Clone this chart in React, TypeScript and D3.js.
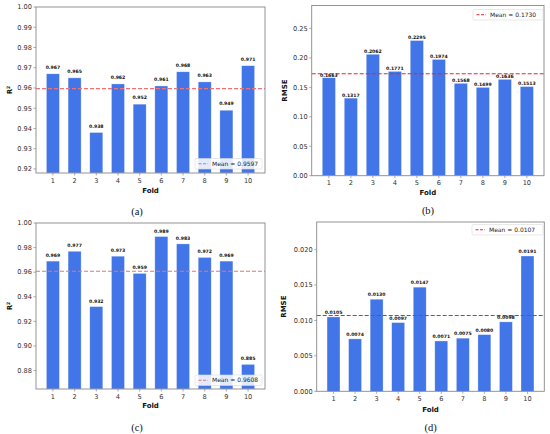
import React from "react";
import * as d3 from "d3";

const folds = [1, 2, 3, 4, 5, 6, 7, 8, 9, 10];
const r2A = [0.967, 0.965, 0.938, 0.962, 0.952, 0.961, 0.968, 0.963, 0.949, 0.971];
const rmseB = [0.1663, 0.1317, 0.2062, 0.1771, 0.2295, 0.1974, 0.1568, 0.1499, 0.1636, 0.1513];
const r2C = [0.969, 0.977, 0.932, 0.973, 0.959, 0.989, 0.983, 0.972, 0.969, 0.885];
const rmseD = [0.0105, 0.0074, 0.013, 0.0097, 0.0147, 0.0071, 0.0075, 0.008, 0.0098, 0.0191];
const means = [0.9597, 0.173, 0.9608, 0.0107];
const captions = ["(a)", "(b)", "(c)", "(d)"];
const yTicksA = [0.92, 0.93, 0.94, 0.95, 0.96, 0.97, 0.98, 0.99, 1.0];
const yTicksB = [0.0, 0.05, 0.1, 0.15, 0.2, 0.25];
const yTicksC = [0.88, 0.9, 0.92, 0.94, 0.96, 0.98, 1.0];
const yTicksD = [0.0, 0.005, 0.01, 0.015, 0.02];

const FONT = "DejaVu Sans, sans-serif";
const BAR = "#4175e8";

type PanelProps = {
  values: number[];
  mean: number;
  meanDigits: number;
  valDigits: number;
  yDomain: [number, number];
  yTicks: number[];
  tickDigits: number;
  L: number; R: number; T: number; B: number;
  ylab: "R2" | "RMSE";
  ylabX: number;
  foldY: number;
  caption: string;
  capX: number;
  capY: number;
  labelOff: number;
  legend: { x: number; y: number; w: number };
  meanColor: string;
};

function Panel(p: PanelProps) {
  const x = d3.scaleLinear().domain([0.22, 10.78]).range([p.L, p.R]);
  const y = d3.scaleLinear().domain(p.yDomain).range([p.B, p.T]);
  const bw = x(0.6) - x(0);
  const fmt = d3.format(`.${p.valDigits}f`);
  const tf = d3.format(`.${p.tickDigits}f`);
  const midY = (p.T + p.B) / 2;
  const lg = p.legend;
  return (
    <g fontFamily={FONT}>
      {p.values.map((v, i) => (
        <rect key={i} x={x(folds[i]) - bw / 2} y={y(v)} width={bw} height={Math.max(0, p.B - y(v))}
          fill={BAR} stroke="#ffffff" strokeOpacity={0.5} strokeWidth={0.6} />
      ))}
      <line x1={p.L} x2={p.R} y1={y(p.mean)} y2={y(p.mean)} stroke={p.meanColor}
        strokeWidth={1.1} strokeDasharray="4,2" />
      {p.values.map((v, i) => (
        <text key={i} x={x(folds[i])} y={y(v) - p.labelOff} textAnchor="middle" fontSize={4.6} fontWeight="bold" fill="#111">
          {fmt(v)}
        </text>
      ))}
      <rect x={p.L} y={p.T} width={p.R - p.L} height={p.B - p.T} fill="none" stroke="#888" strokeWidth={0.9} />
      {p.yTicks.map((t, i) => (
        <g key={i}>
          <line x1={p.L - 2.5} x2={p.L} y1={y(t)} y2={y(t)} stroke="#888" strokeWidth={0.7} />
          <text x={p.L - 4} y={y(t)} dy="0.35em" textAnchor="end" fontSize={6.6} fill="#333">{tf(t)}</text>
        </g>
      ))}
      {folds.map((f) => (
        <g key={f}>
          <line x1={x(f)} x2={x(f)} y1={p.B} y2={p.B + 2.5} stroke="#888" strokeWidth={0.7} />
          <text x={x(f)} y={p.B + 9.5} textAnchor="middle" fontSize={6.6} fill="#333">{f}</text>
        </g>
      ))}
      <text x={(p.L + p.R) / 2} y={p.foldY} dy="0.35em" textAnchor="middle" fontSize={7} fontWeight="bold" fill="#111">Fold</text>
      {p.ylab === "R2" ? (
        <text transform={`translate(${p.ylabX},${midY}) rotate(-90)`} dy="0.35em" textAnchor="middle" fontSize={7} fontWeight="bold" fill="#111">
          R<tspan fontSize={4.6} dy="-2.6">2</tspan>
        </text>
      ) : (
        <text transform={`translate(${p.ylabX},${midY}) rotate(-90)`} dy="0.35em" textAnchor="middle" fontSize={7} fontWeight="bold" fill="#111">RMSE</text>
      )}
      <rect x={lg.x} y={lg.y} width={lg.w} height={10.5} rx={1.5} fill="#fff" fillOpacity={0.85} stroke="#d8d8d8" strokeWidth={0.6} />
      <line x1={lg.x + 3.5} x2={lg.x + 13} y1={lg.y + 5.25} y2={lg.y + 5.25} stroke={p.meanColor} strokeWidth={1.1} strokeDasharray="3,1.5" />
      <text x={lg.x + 17} y={lg.y + 5.25} dy="0.35em" fontSize={6} fill="#222">{`Mean = ${d3.format(`.${p.meanDigits}f`)(p.mean)}`}</text>
      <text x={p.capX} y={p.capY} dy="0.35em" textAnchor="middle" fontSize={10.5} fontFamily="Liberation Serif, Times New Roman, serif" fill="#111">{p.caption}</text>
    </g>
  );
}

export default function App() {
  return (
    <svg width={550} height={434} style={{ position: "absolute", left: 0, top: 0, background: "#fff" }}>
      <rect width={550} height={434} fill="#fff" />
      <Panel values={r2A} mean={means[0]} meanDigits={4} valDigits={3} yDomain={[0.918, 1.0]} yTicks={yTicksA} tickDigits={2}
        L={36} R={265} T={7} B={173} ylab="R2" ylabX={10} foldY={190.7} caption={captions[0]} capX={137} capY={211}
        labelOff={5} legend={{ x: 195, y: 158.5, w: 67 }} meanColor="#f07272" />
      <Panel values={rmseB} mean={means[1]} meanDigits={4} valDigits={4} yDomain={[0, 0.289]} yTicks={yTicksB} tickDigits={2}
        L={311.7} R={544} T={5.5} B={175.7} ylab="RMSE" ylabX={285} foldY={193} caption={captions[1]} capX={428} capY={210.7}
        labelOff={1.2} legend={{ x: 473, y: 9.5, w: 70 }} meanColor="#e8262a" />
      <Panel values={r2C} mean={means[2]} meanDigits={4} valDigits={3} yDomain={[0.865, 1.0]} yTicks={yTicksC} tickDigits={2}
        L={36} R={265} T={223} B={389} ylab="R2" ylabX={10} foldY={405.7} caption={captions[2]} capX={137} capY={427}
        labelOff={4} legend={{ x: 195, y: 375, w: 67 }} meanColor="#f07272" />
      <Panel values={rmseD} mean={means[3]} meanDigits={4} valDigits={4} yDomain={[0, 0.0239]} yTicks={yTicksD} tickDigits={3}
        L={316.7} R={544.3} T={222} B={391.3} ylab="RMSE" ylabX={284} foldY={409.7} caption={captions[3]} capX={430.7} capY={427.7}
        labelOff={3} legend={{ x: 472, y: 224.5, w: 71 }} meanColor="#e8262a" />
    </svg>
  );
}
